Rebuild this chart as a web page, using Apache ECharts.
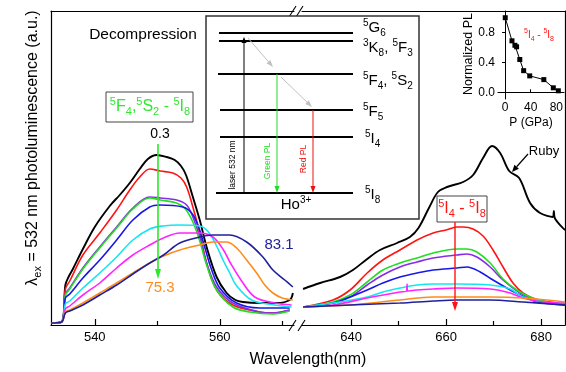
<!DOCTYPE html>
<html><head><meta charset="utf-8">
<script src="https://cdn.jsdelivr.net/npm/echarts@6/dist/echarts.min.js"></script>
<style>html,body{margin:0;padding:0;background:#fff}#c{width:566px;height:372px}</style>
</head><body><div id="c"></div>
<script>
const FONT = '"Liberation Sans", Arial, sans-serif';

// ---- Left window (5F4,5S2 -> 5I8 green band), wavelength nm vs intensity (a.u.)
const leftBlack   = [[533,2],[534.7,3],[535.3,40],[535.8,48],[536.5,56],[538.1,76],[540,98],[542.4,119],[544,130],[545.6,142],[547.2,156],[548.5,166],[549.9,170],[551.5,168],[552.8,165],[553.8,159],[554.6,150],[555.7,128],[556.8,105],[557.9,78],[559.5,48],[561.1,32],[562.5,25],[563.7,23],[566.4,22],[569.1,22],[571.2,25],[571.7,32]];
const leftRed     = [[533,2],[534.7,3],[535.3,36],[536,44],[538.1,70],[540.8,92],[543.5,115],[545.6,135],[547.2,148],[548.8,156],[550.5,154],[552.5,152],[553.8,147],[554.7,138],[555.7,118],[556.8,92],[557.9,62],[559.5,35],[562.1,20],[566.4,13],[568.5,12],[571.2,15]];
const leftPurple  = [[533,2],[534.7,3],[535.3,31],[536,37],[538.1,57],[540.8,78],[543.5,98],[546.1,117],[548.8,128],[550.5,127],[553.1,125],[554.7,120],[555.7,108],[556.8,88],[557.9,62],[559.5,38],[562.1,22],[566.4,13],[568.5,12],[571.2,15]];
const leftGreen   = [[533,2],[534.7,3],[535.3,30],[536,36],[538.1,56],[540.8,77],[543.5,97],[546.1,116],[548.8,127],[550.5,125],[553.1,122],[554.5,116],[555.7,103],[556.8,84],[557.9,60],[559.5,35],[562.1,18],[564.8,13],[568.5,11],[571.2,14]];
const leftBlue    = [[533,2],[534.7,3],[535.3,27],[536,31],[538.1,47],[540.8,65],[543.5,85],[546.1,105],[548.8,118],[550.4,120],[554.1,118],[555.5,112],[556.5,100],[557.5,80],[558.6,57],[560,37],[562.7,22],[566.4,17],[571.2,17]];
const leftCyan    = [[533,2],[534.7,3],[535.3,21],[536,24],[538.1,37],[540.8,52],[543.5,68],[546.1,85],[548.8,96],[550.9,99],[553.6,100],[556.8,99],[558.2,93],[559.5,79],[560.6,64],[561.6,52],[562.6,40],[565.1,25],[568.8,20],[571.5,18]];
const leftMagenta = [[533,2],[534.7,3],[535.3,16],[536,19],[538.1,30],[540.8,42],[543.5,57],[546.1,70],[548.8,80],[551,87],[553.6,92],[556.8,92],[558.9,88],[560.5,76],[561.7,62],[563.5,44],[565.6,28],[568.8,22],[571.5,20]];
const leftOrange  = [[533,2],[534.7,3],[535.3,13],[536,15],[538.1,22],[540.8,32],[543.5,42],[546.1,52],[548.8,62],[551,69],[553.6,75],[556.8,80],[558.9,83],[561.1,83],[562.7,77],[564.3,65],[565.9,52],[567.2,40],[568.5,32],[570,27],[571.7,25]];
const leftNavy    = [[533,2],[534.7,3],[535.3,12],[536,14],[538.1,20],[540.8,30],[543.5,40],[546.1,51],[548.8,62],[551,70],[553.6,82],[556.8,88],[558.9,90],[561.6,90],[564.3,83],[566.9,68],[568.5,55],[570.4,45],[571.7,38]];

// ---- Right window (5I4 -> 5I8 red band + ruby)
const rightBlack   = [[629.9,36],[633.5,42],[637.7,48],[640.4,55],[643.4,66],[646.1,75],[649.7,82],[652.4,88],[654.2,97],[656.4,117],[658.3,133],[660.2,138],[663.6,143],[665.7,150],[667.8,167],[669.7,179],[671.4,172],[673.3,154],[675.4,147],[677.7,122],[679.8,112],[682.5,108],[682.7,114],[682.9,107],[684.6,97],[685.1,95]];
const rightRed     = [[629.9,18],[636.2,25],[639.8,35],[643.4,52],[646.7,65],[650.3,75],[653.9,85],[657.3,92],[660,95],[662.3,98],[663.6,98],[665.7,96],[667.8,89],[669.9,75],[672,58],[674.1,42],[676.2,32],[679.2,25],[683.4,22],[685.1,20]];
const rightGreen   = [[629.9,18],[636.2,23],[639.8,30],[643.4,43],[646.7,55],[650.3,62],[653.9,67],[657.3,72],[662.3,76],[664.4,76],[666.5,73],[669.3,62],[672,46],[674.9,35],[677.7,28],[681.9,22],[685.1,20]];
const rightPurple  = [[629.9,18],[636.2,22],[639.8,28],[643.4,40],[646.7,50],[650.3,58],[653.9,63],[657.3,67],[662.3,70],[664.4,71],[666.5,68],[669.3,58],[672,45],[675.6,32],[679.2,25],[685.1,21]];
const rightBlue    = [[629.9,18],[636.2,22],[639.8,28],[643.4,35],[646.7,42],[650.3,48],[653.9,52],[657.3,55],[662.3,57],[664.4,58],[667.2,53],[669.9,45],[672.8,37],[675.6,30],[679.2,23],[685.1,20]];
const rightCyan    = [[629.9,18],[636.2,22],[643.4,28],[646.7,33],[650.3,37],[653.9,40],[657.3,41],[662.3,41],[669.3,40],[673.5,36],[676.2,28],[680.4,23],[685.1,22]];
const rightMagenta = [[629.9,18],[636.2,20],[643.4,27],[650.3,33],[651.7,34],[651.8,41],[651.9,34],[653.9,35],[657.3,36],[662.3,37],[669.3,36],[673.5,32],[676.2,27],[680.4,23],[685.1,22]];
const rightOrange  = [[629.9,18],[639.8,20],[650.3,25],[657.3,28],[662.3,28],[669.3,28],[676.2,27],[685.1,23]];
const rightNavy    = [[629.9,18],[639.8,20],[650.3,22],[657.3,24],[662.3,25],[669.3,25],[676.2,23],[685.1,20]];

// ---- Inset: normalized 5I4-5I8 PL vs pressure
const insetPressure = [0.3, 10.8, 15.4, 18, 23, 29, 38.5, 60.5, 75.3, 83.1];
const insetPL       = [1.0, 0.69, 0.63, 0.61, 0.44, 0.29, 0.22, 0.17, 0.06, 0.02];

// ---- Tick labels
const leftMajorTicks = [540, 560];
const leftMinorTicks = [550, 570];
const rightMajorTicks = [640, 660, 680];
const rightMinorTicks = [650, 670];
const insetXTicks = [0, 40, 80];
const insetYTicks = [0, 0.4, 0.8];

const curveColors = {
  black:'#000000', red:'#ff1414', purple:'#8a2be8', green:'#22dd22', blue:'#1818e6',
  cyan:'#14e6f0', magenta:'#ff24ff', orange:'#ff8c1a', navy:'#20209c'
};
const leftSets = {black:leftBlack, red:leftRed, purple:leftPurple, green:leftGreen, blue:leftBlue, cyan:leftCyan, magenta:leftMagenta, orange:leftOrange, navy:leftNavy};
const rightSets = {black:rightBlack, red:rightRed, purple:rightPurple, green:rightGreen, blue:rightBlue, cyan:rightCyan, magenta:rightMagenta, orange:rightOrange, navy:rightNavy};

const chart = echarts.init(document.getElementById('c'), null, {renderer:'canvas'});

const series = [];
function addCurves(sets, xi, yi){
  Object.keys(sets).forEach(k => {
    series.push({type:'line', xAxisIndex:xi, yAxisIndex:yi, data:sets[k], showSymbol:false, symbol:'none',
      smooth:0.35, lineStyle:{color:curveColors[k], width:k==='black'?1.9:1.6}, silent:true, animation:false});
  });
}
addCurves(leftSets, 0, 0);
addCurves(rightSets, 3, 1);
series.push({type:'line', xAxisIndex:6, yAxisIndex:2, data:insetPressure.map((p,i)=>[p, insetPL[i]]),
  symbol:'rect', symbolSize:5, itemStyle:{color:'#000'}, lineStyle:{color:'#000', width:1}, animation:false, z:20});

const lineAx = {show:true, lineStyle:{color:'#000', width:1.2}};
const noLbl = {show:false};
const baseX = (grid, min, max, extra) => Object.assign({type:'value', gridIndex:grid, min, max, splitLine:{show:false}}, extra);

const xAxis = [
  baseX(0, 533, 571.88, {position:'bottom', axisLine:lineAx,
    axisTick:{show:true, inside:true, length:6, customValues:leftMajorTicks, lineStyle:{color:'#000', width:1.2}},
    axisLabel:{show:true, customValues:leftMajorTicks, margin:6, fontSize:13, color:'#000', fontFamily:FONT}}),
  baseX(0, 533, 571.88, {position:'bottom', axisLine:{show:false},
    axisTick:{show:true, inside:true, length:4, customValues:leftMinorTicks, lineStyle:{color:'#000', width:1.2}},
    axisLabel:noLbl}),
  baseX(0, 533, 571.88, {position:'top', axisLine:lineAx, axisTick:{show:false}, axisLabel:noLbl}),
  baseX(1, 629.68, 685.05, {position:'bottom', axisLine:lineAx,
    axisTick:{show:true, inside:true, length:6, customValues:rightMajorTicks, lineStyle:{color:'#000', width:1.2}},
    axisLabel:{show:true, customValues:rightMajorTicks, margin:6, fontSize:13, color:'#000', fontFamily:FONT}}),
  baseX(1, 629.68, 685.05, {position:'bottom', axisLine:{show:false},
    axisTick:{show:true, inside:true, length:4, customValues:rightMinorTicks, lineStyle:{color:'#000', width:1.2}},
    axisLabel:noLbl}),
  baseX(1, 629.68, 685.05, {position:'top', axisLine:lineAx, axisTick:{show:false}, axisLabel:noLbl}),
  baseX(2, -11, 92, {position:'bottom', axisLine:{show:true, lineStyle:{color:'#000', width:1}},
    axisTick:{show:true, inside:true, length:3, customValues:insetXTicks, lineStyle:{color:'#000'}},
    axisLabel:{show:true, customValues:insetXTicks, margin:3, fontSize:12, color:'#000', fontFamily:FONT}})
];
const yAxis = [
  {type:'value', gridIndex:0, min:0, max:314, position:'left', axisLine:lineAx, axisTick:{show:false}, axisLabel:noLbl, splitLine:{show:false}},
  {type:'value', gridIndex:1, min:0, max:314, position:'right', axisLine:lineAx, axisTick:{show:false}, axisLabel:noLbl, splitLine:{show:false}},
  {type:'value', gridIndex:2, min:-0.09, max:1.09, position:'left', axisLine:{show:true, lineStyle:{color:'#000', width:1}},
    axisTick:{show:true, inside:false, length:3, customValues:insetYTicks, lineStyle:{color:'#000'}},
    axisLabel:{show:true, customValues:insetYTicks, margin:3, fontSize:12, color:'#000', fontFamily:FONT,
      formatter:v=>v.toFixed(1)}, splitLine:{show:false}}
];

// ---- annotation helpers
const Z = 100;
function ln(x1,y1,x2,y2,color,w,z){return {type:'line', z:z||Z, silent:true, shape:{x1,y1,x2,y2}, style:{stroke:color, lineWidth:w}};}
function arrow(x1,y1,x2,y2,color,w,hl,hw,z){
  const dx=x2-x1, dy=y2-y1, L=Math.sqrt(dx*dx+dy*dy), ux=dx/L, uy=dy/L;
  const bx=x2-ux*hl, by=y2-uy*hl, px=-uy, py=ux;
  return [ln(x1,y1,bx,by,color,w,z),
    {type:'polygon', z:z||Z, silent:true, shape:{points:[[x2,y2],[bx+px*hw/2,by+py*hw/2],[bx-px*hw/2,by-py*hw/2]]}, style:{fill:color}}];
}
function rich(size, color){
  return {
    m:{fontSize:size, lineHeight:size+5, verticalAlign:'middle', fill:color, color:color, fontFamily:FONT},
    sup:{fontSize:Math.round(size*0.66), lineHeight:Math.round(size*0.66), verticalAlign:'top', fill:color, color:color, fontFamily:FONT},
    sub:{fontSize:Math.round(size*0.66), lineHeight:Math.round(size*0.66), verticalAlign:'bottom', fill:color, color:color, fontFamily:FONT}
  };
}
function rtext(x,y,txt,size,color,align,rot,z){
  return {type:'text', z:z||Z+1, silent:true, x, y, rotation:rot||0,
    style:{text:txt, rich:rich(size,color), fill:color, font:size+'px '+FONT, align:align||'left', verticalAlign:'middle'}};
}
function text(x,y,txt,size,color,align,rot,z){
  return {type:'text', z:z||Z+1, silent:true, x, y, rotation:rot||0,
    style:{text:txt, fill:color, font:size+'px '+FONT, align:align||'center', verticalAlign:'middle'}};
}

const G = [];
// axis break marks
G.push(ln(289,331,296,320,'#000',1.1), ln(298,331,305,320,'#000',1.1));
G.push(ln(289,17,296,6,'#000',1.1), ln(296,17,303,6,'#000',1.1));
// axis titles
G.push(text(308,360,'Wavelength(nm)',16,'#000','center'));
G.push(rtext(33,148,'{m|λ}{sub|ex}{m| = 532 nm photoluminescence (a.u.)}',16,'#000','center',Math.PI/2));
// Decompression
G.push(text(143,35,'Decompression',15.5,'#000','center'));
// green band label box
G.push({type:'rect', z:Z, silent:true, shape:{x:106,y:92,width:87,height:30}, style:{fill:'#fff', stroke:'#444', lineWidth:1}});
G.push(rtext(150,107,'{sup|5}{m|F}{sub|4}{m|,}{sup|5}{m|S}{sub|2}{m| - }{sup|5}{m|I}{sub|8}',16,'#2ee82e','center'));
G.push(text(160,134,'0.3',14,'#000','center'));
G.push(...arrow(158,144,158,279,'#2ee82e',1.6,10,6));
G.push(text(160,288,'75.3',15,'#ff8c1a','center'));
G.push(text(279,245,'83.1',15,'#20209c','center'));
// red band label box
G.push({type:'rect', z:Z, silent:true, shape:{x:437,y:196,width:50,height:26}, style:{fill:'#fff', stroke:'#444', lineWidth:1}});
G.push(rtext(462,209,'{sup|5}{m|I}{sub|4}{m| - }{sup|5}{m|I}{sub|8}',16,'#ff1414','center'));
G.push(...arrow(455,222,455,311,'#ff1414',1.4,9,6));
// Ruby label
G.push(text(544,151,'Ruby',13,'#000','center'));
G.push(...arrow(528,154,512,172,'#000',1.2,7,6));

// energy level diagram
G.push({type:'rect', z:Z, silent:true, shape:{x:206,y:16,width:213,height:203}, style:{fill:'#fff', stroke:'#333', lineWidth:1.5}});
const ZL = Z+2, ZT = Z+3;
G.push(ln(219,33,353,33,'#000',1.8,ZL), ln(219,41,353,41,'#000',1.8,ZL), ln(218,74,353,74,'#000',1.8,ZL),
       ln(220,110,353,110,'#000',1.8,ZL), ln(220,137,353,137,'#000',1.8,ZL), ln(216,193,353,193,'#000',1.8,ZL));
G.push(...arrow(244,193,244,37,'#000',1,6,5,ZL));
G.push(...arrow(277,74,277,193,'#22dd22',1,7,5,ZL));
G.push(...arrow(313,110,313,193,'#ee1111',1,7,5,ZL));
G.push(...arrow(248,38,273,67,'#c0c0c0',1,7,5,ZL));
G.push(...arrow(281,77,312,107,'#c0c0c0',1,7,5,ZL));
G.push(text(233,165,'laser 532 nm',8.5,'#000','center',Math.PI/2,ZT));
G.push(text(268,161,'Green PL',8.5,'#22dd22','center',Math.PI/2,ZT));
G.push(text(304,159,'Red PL',8.5,'#ee1111','center',Math.PI/2,ZT));
G.push(rtext(363,28,'{sup|5}{m|G}{sub|6}',15,'#000','left',0,ZT));
G.push(rtext(363,48,'{sup|3}{m|K}{sub|8}{m|, }{sup|5}{m|F}{sub|3}',15,'#000','left',0,ZT));
G.push(rtext(363,81,'{sup|5}{m|F}{sub|4}{m|, }{sup|5}{m|S}{sub|2}',15,'#000','left',0,ZT));
G.push(rtext(363,112,'{sup|5}{m|F}{sub|5}',15,'#000','left',0,ZT));
G.push(rtext(365,139,'{sup|5}{m|I}{sub|4}',15,'#000','left',0,ZT));
G.push(rtext(365,195,'{sup|5}{m|I}{sub|8}',15,'#000','left',0,ZT));
G.push(rtext(296,205,'{m|Ho}{sup|3+}',15,'#000','center',0,ZT));

// inset texts
G.push(text(469,54,'Normalized PL',12.5,'#000','center',Math.PI/2));
G.push(text(531,123,'P (GPa)',12,'#000','center'));
G.push(rtext(539,35,'{sup|5}{m|I}{sub|4}{m| - }{sup|5}{m|I}{sub|8}',10,'#ff1414','center'));

chart.setOption({
  animation:false,
  backgroundColor:'#fff',
  grid:[
    {left:51, top:11, width:243, height:314},
    {left:302, top:11, width:263, height:314},
    {left:498, top:11, width:67, height:88, z:10}
  ],
  xAxis, yAxis, series,
  graphic:{elements:G}
});
</script></body></html>
